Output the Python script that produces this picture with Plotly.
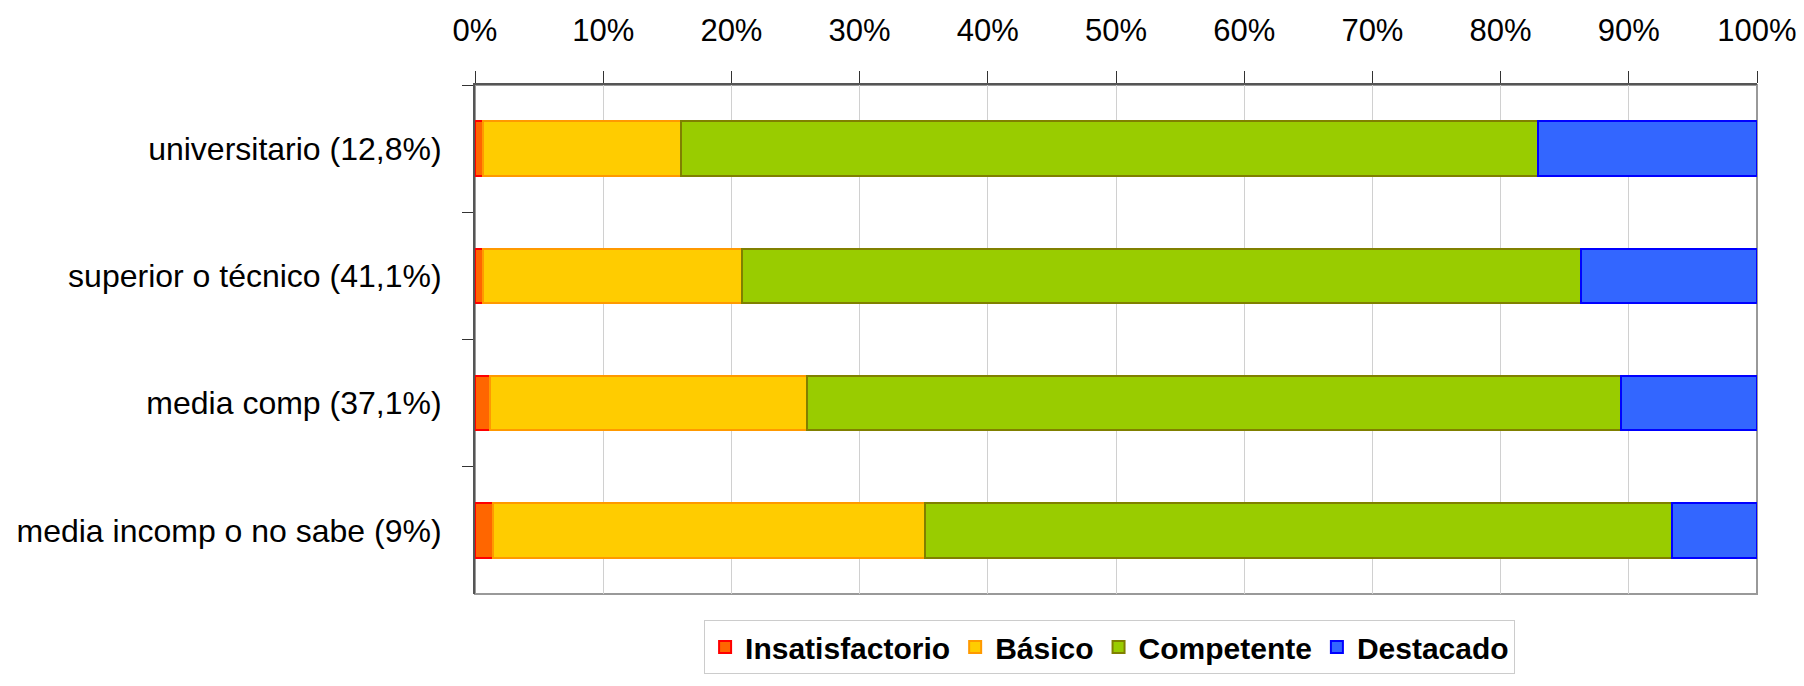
import plotly.graph_objects as go

# categories top to bottom
categorias = ["universitario (12,8%)", "superior o técnico (41,1%)",
              "media comp (37,1%)", "media incomp o no sabe (9%)"]

# percent of each level per category
insatisfactorio = [0.6, 0.6, 1.2, 1.4]
basico = [15.5, 20.2, 24.7, 33.7]
competente = [66.8, 65.5, 63.5, 58.3]
destacado = [17.1, 13.7, 10.6, 6.6]

series = [
    ("Insatisfactorio", insatisfactorio, "#FF6600", "#FF0000"),
    ("Básico", basico, "#FFCC00", "#FF9900"),
    ("Competente", competente, "#99CC00", "#808000"),
    ("Destacado", destacado, "#3366FF", "#0000FF"),
]

font_name = "Liberation Sans, Arial, sans-serif"

fig = go.Figure()
for nombre, vals, fill, borde in series:
    fig.add_trace(go.Bar(
        y=categorias, x=vals, name=nombre, orientation="h",
        marker=dict(color=fill, line=dict(color=borde, width=2)),
    ))

# grey frame on right/bottom
fig.add_shape(type="rect", xref="paper", yref="paper", x0=0, x1=1, y0=0, y1=1,
              line=dict(color="#999999", width=2), layer="below")

fig.update_layout(
    width=1804, height=686,
    barmode="stack", bargap=0.57,
    plot_bgcolor="white", paper_bgcolor="white",
    margin=dict(l=475, r=47, t=85, b=90),
    font=dict(family=font_name, color="black"),
    legend=dict(orientation="h", x=0.495, xanchor="center", y=-0.051, yanchor="top",
                font=dict(size=30, family=font_name, weight="bold"),
                bordercolor="#CCCCCC", borderwidth=1, itemwidth=30,
                traceorder="normal"),
)
fig.update_xaxes(side="top", range=[0, 100], dtick=10, ticksuffix="%",
                 showgrid=True, gridcolor="#D0D0D0", gridwidth=1,
                 ticks="outside", ticklen=12, tickcolor="#333333",
                 showline=True, linecolor="#555555", linewidth=2,
                 tickfont=dict(size=31), ticklabelstandoff=18, zeroline=False,
                 automargin=False)
fig.update_yaxes(autorange="reversed", tickson="boundaries", ticks="outside",
                 ticklen=11, tickcolor="#333333", showline=True,
                 linecolor="#555555", linewidth=2, tickfont=dict(size=32),
                 ticklabelstandoff=25, automargin=False)

# drop the default page margin so the figure sits at the window corner
fig.write_html("out.html", config={"displayModeBar": False},
               post_script="document.body.style.margin='0';")
